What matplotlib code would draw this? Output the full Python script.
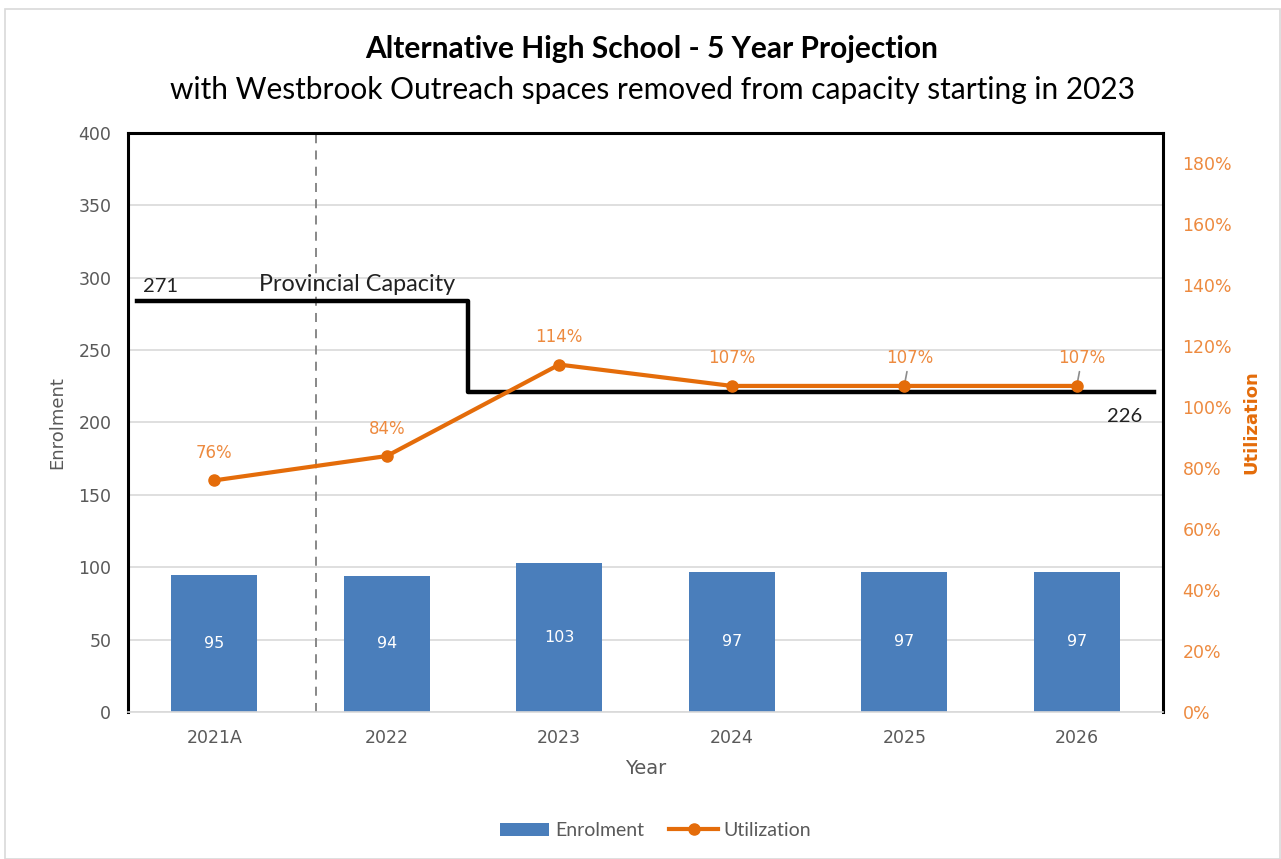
import matplotlib
matplotlib.use("Agg")
import matplotlib.pyplot as plt
from matplotlib.patches import Rectangle
from matplotlib.ticker import FuncFormatter

plt.rcParams['font.family'] = ['DejaVu Sans']

# chart data
years = ["2021A", "2022", "2023", "2024", "2025", "2026"]
enrolment = [95, 94, 103, 97, 97, 97]
utilization = [76, 84, 114, 107, 107, 107]
cap_labels = [271, 226]
cap_levels = [284, 221]          # where the capacity line sits on the enrolment axis
cap_x = [-0.45, 1.47, 5.45]      # start, step, end of the capacity line (category units)

blue = "#4a7ebb"
orange = "#e46c0a"
label_orange = "#ed8a3f"
gray = "#595959"

fig = plt.figure(figsize=(12.81, 8.59), dpi=100)
fig.patches.append(Rectangle((0.004, 0.0), 0.995, 0.99, transform=fig.transFigure,
                             fill=False, edgecolor="#d9d9d9", lw=1.2))

ax = fig.add_axes([0.0999, 0.1711, 0.8080, 0.6741])
ax2 = ax.twinx()

x = range(len(years))

# bars
bars = ax.bar(x, enrolment, width=0.5, color=blue, label="Enrolment", zorder=2)
for xi, v in zip(x, enrolment):
    ax.text(xi, v / 2, str(v), ha="center", va="center", color="white", fontsize=11.5, zorder=3)

# capacity step line
ax.plot([cap_x[0], cap_x[1], cap_x[1], cap_x[2]],
        [cap_levels[0], cap_levels[0], cap_levels[1], cap_levels[1]],
        color="black", lw=3.2, zorder=3)
ax.text(cap_x[0] + 0.04, cap_levels[0] + 4, str(cap_labels[0]), fontsize=14.5, color="#222222",
        ha="left", va="bottom", family="Lato")
ax.text(0.83, cap_levels[0] + 4, "Provincial Capacity", fontsize=16.8, color="#222222",
        ha="center", va="bottom", family="Lato")
ax.text(5.28, cap_levels[1] - 11, str(cap_labels[1]), fontsize=14.5, color="#222222",
        ha="center", va="top", family="Lato")

# dashed separator between actual and projection
ax.axvline(0.59, ymin=0.0, ymax=1.0, color="#7f7f7f", ls=(0, (5, 4)), lw=1.3, zorder=1)

ax.set_xlim(-0.5, 5.5)
ax.set_ylim(0, 400)
ax.set_yticks(range(0, 401, 50))
ax.set_xticks(list(x))
ax.set_xticklabels(years)
ax.grid(axis="y", color="#d9d9d9", lw=1.2, zorder=0)
ax.set_axisbelow(True)
ax.tick_params(axis="y", length=0, labelsize=12.5, labelcolor=gray, pad=12)
ax.tick_params(axis="x", length=0, labelsize=12.5, labelcolor=gray, pad=12)
ax.set_ylabel("Enrolment", fontsize=13, color=gray, labelpad=9)
ax.set_xlabel("Year", fontsize=14, color=gray, labelpad=9)
for s in ["top", "left", "right"]:
    ax.spines[s].set_color("black")
    ax.spines[s].set_linewidth(2.2)
ax.spines["bottom"].set_color("#d9d9d9")
ax.spines["bottom"].set_linewidth(1.2)

# utilization line
ax2.plot(list(x), utilization, color=orange, lw=3, marker="o", markersize=8,
         label="Utilization", zorder=4)
for i, (xi, v) in enumerate(zip(x, utilization)):
    if i >= 4:
        ax2.annotate(f"{v}%", xy=(xi, v), xytext=(xi + 0.03, v + 9.0),
                     ha="center", va="center", fontsize=12, color=label_orange,
                     arrowprops=dict(arrowstyle="-", color="#8c8c8c", lw=1.2, shrinkA=1, shrinkB=1))
    else:
        ax2.text(xi, v + 9.0, f"{v}%", ha="center", va="center", fontsize=12, color=label_orange)

ax2.set_ylim(0, 190)
ax2.set_yticks(range(0, 181, 20))
ax2.yaxis.set_major_formatter(FuncFormatter(lambda v, p: f"{int(v)}%"))
ax2.tick_params(axis="y", length=0, labelsize=12.5, labelcolor=label_orange, pad=14)
ax2.set_ylabel("Utilization", fontsize=13, color=orange, fontweight="bold", labelpad=7)
for s in ax2.spines.values():
    s.set_visible(False)

# titles
fig.text(0.509, 0.943, "Alternative High School - 5 Year Projection", ha="center", va="center",
         fontsize=21.5, fontweight="bold", family="Lato", color="black")
fig.text(0.509, 0.895, "with Westbrook Outreach spaces removed from capacity starting in 2023",
         ha="center", va="center", fontsize=21.5, family="Lato", color="black")

# legend
h1, l1 = ax.get_legend_handles_labels()
h2, l2 = ax2.get_legend_handles_labels()
fig.legend(h1 + h2, l1 + l2, loc="center", bbox_to_anchor=(0.512, 0.033), ncol=2,
           frameon=False, prop={"family": "Lato", "size": 14}, labelcolor=gray,
           handlelength=2.5, handletextpad=0.3, columnspacing=1.3)

fig.savefig("out.png", dpi=100)
